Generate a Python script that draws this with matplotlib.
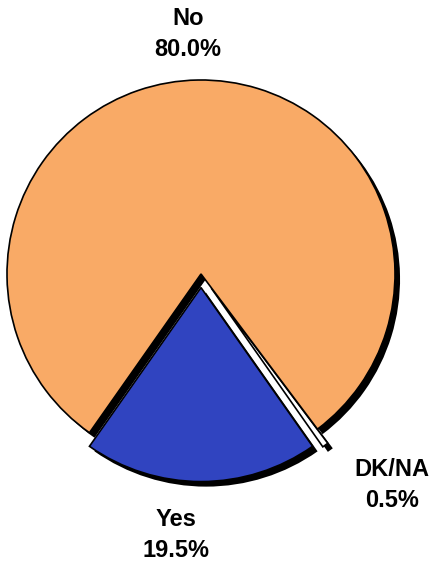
import matplotlib
matplotlib.use("Agg")
import matplotlib.pyplot as plt

labels = ["Yes", "DK/NA", "No"]
shares = [19.5, 0.5, 80.0]
colors = ["#3044C0", "#FFFFFF", "#F9AA66"]
explode = [0.07, 0.09, 0.0]

START = 270 - shares[0] * 3.6 / 2

W, H = 433, 565
R_PX = 194.0
CX, CY = 201.0, 274.0

fig = plt.figure(figsize=(W / 100, H / 100), dpi=100)
ax = fig.add_axes([0, 0, 1, 1])

# black drop shadow, then the pie itself
ax.pie(shares, colors=["black"] * 3, explode=explode, startangle=START,
       center=(0.026, -0.026), wedgeprops=dict(linewidth=0))
ax.pie(shares, colors=colors, explode=explode, startangle=START,
       wedgeprops=dict(edgecolor="black", linewidth=1.2))

text_pos = {"No": (-0.067, 1.237), "Yes": (-0.129, -1.345), "DK/NA": (0.985, -1.088)}
for lab, val in zip(labels, shares):
    x, y = text_pos[lab]
    ax.text(x, y, f"{lab}\n{val:.1f}%", ha="center", va="center",
            fontsize=17, fontweight="bold", family="Liberation Sans",
            linespacing=1.4)

ax.set_xlim(-CX / R_PX, (W - CX) / R_PX)
ax.set_ylim(-(H - CY) / R_PX, CY / R_PX)
ax.set_aspect("auto")
ax.axis("off")

fig.savefig("out.png", dpi=100)
